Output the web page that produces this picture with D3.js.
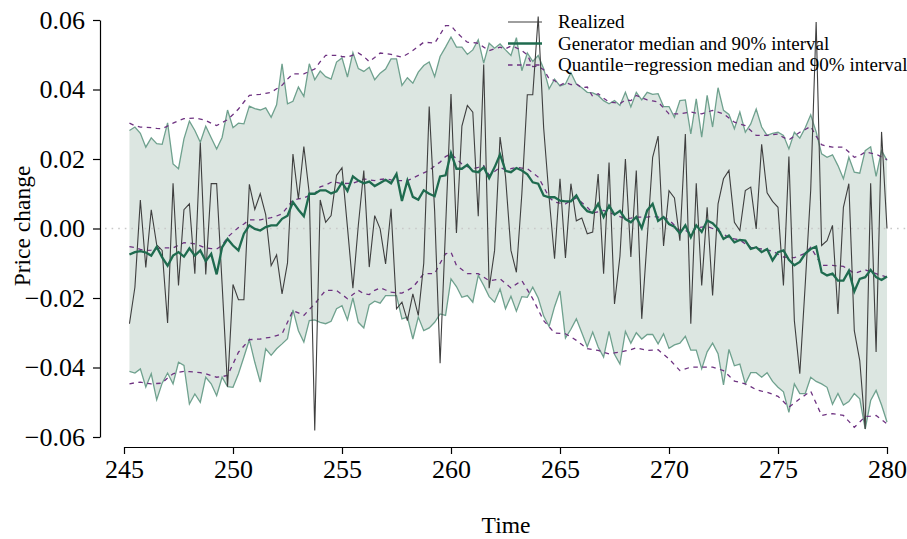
<!DOCTYPE html>
<html>
<head>
<meta charset="utf-8">
<script src="https://cdn.jsdelivr.net/npm/d3@7/dist/d3.min.js"></script>
<style>
  html, body { margin: 0; padding: 0; background: #ffffff; }
  svg { display: block; }
  text { font-family: "Liberation Serif", "Times New Roman", serif; fill: #000; }
</style>
</head>
<body>
<svg id="chart" width="907" height="539"></svg>
<script>
// Quarterly time grid: 245.25, 245.50, ... 280.00
const timeStart = 245.25;
const timeStep = 0.25;

// All series below are price changes in hundredths (0.01 units).
const realized = [
  -2.74,-1.69,0.82,-1.12,0.54,-0.47,-0.63,-2.72,1.30,-1.64,
  0.54,0.71,-1.30,2.47,-1.32,1.29,1.29,-1.60,-4.55,-1.61,
  -2.05,-2.05,1.27,0.55,1.00,0.40,-1.07,-0.76,-1.88,-0.99,
  2.14,0.85,2.36,1.00,-5.81,0.82,0.18,0.37,1.53,1.75,
  0.04,-1.72,0.10,1.67,-1.11,0.37,-0.01,-1.02,0.57,-2.31,
  -2.12,-2.65,-1.88,-2.50,-1.00,3.51,0.50,-3.88,0.00,3.87,
  -0.13,2.95,3.54,3.35,0.35,4.72,-1.72,-0.63,2.63,1.50,
  -0.63,-1.26,1.00,3.85,3.85,6.10,2.90,0.90,-0.87,1.43,
  -0.85,1.29,0.22,0.30,-0.15,-0.10,1.57,-1.30,1.90,-2.17,
  -0.80,2.00,-0.82,1.67,-2.60,-0.30,2.05,2.66,-0.50,1.09,
  0.88,-0.35,2.72,-2.74,1.30,-1.64,0.61,-1.93,0.71,1.43,
  1.67,0.18,-0.06,1.09,1.19,-0.01,2.42,1.03,0.78,0.61,
  -1.64,2.07,-2.65,-4.18,-1.60,1.10,5.94,-0.49,-0.35,0.09,
  -2.46,0.61,1.29,-2.94,-3.80,-5.77,1.30,-3.55,2.78,0.00
];

const genMedian = [
  -0.75,-0.68,-0.65,-0.69,-0.78,-0.53,-0.83,-1.07,-0.78,-0.68,
  -0.81,-0.57,-0.78,-0.63,-0.94,-0.73,-1.32,-0.54,-0.30,-0.49,
  -0.63,-0.15,0.09,-0.01,-0.06,0.04,0.09,0.09,0.28,0.37,
  0.76,0.54,0.35,1.00,1.00,1.10,1.10,1.01,1.07,1.32,
  1.08,1.50,1.38,1.30,1.35,1.22,1.31,1.40,1.30,1.57,
  0.79,1.38,0.91,0.83,1.10,1.00,0.93,1.50,1.53,2.17,
  1.72,1.72,1.83,1.65,1.62,1.76,1.45,1.76,2.13,1.66,
  1.62,1.74,1.67,1.56,1.33,1.29,0.95,0.90,0.90,0.80,
  0.78,0.78,0.95,0.67,0.50,0.45,0.71,0.33,0.66,0.40,
  0.51,0.27,0.18,0.33,0.01,0.52,0.71,0.22,0.33,0.13,
  0.05,-0.14,0.09,-0.25,0.09,-0.10,0.23,0.15,-0.01,-0.30,
  -0.20,-0.40,-0.33,-0.35,-0.59,-0.54,-0.68,-0.59,-0.92,-0.68,
  -0.63,-0.90,-1.06,-0.96,-0.72,-0.59,-0.52,-1.26,-1.35,-1.30,
  -1.50,-1.50,-1.22,-1.81,-1.45,-1.40,-1.19,-1.40,-1.48,-1.38
];

const genUpper = [
  2.82,2.92,2.74,2.34,2.61,2.44,2.42,3.04,1.86,1.72,
  2.58,3.09,2.82,2.48,2.94,2.61,2.29,2.62,3.41,2.90,
  3.03,3.01,3.52,3.45,3.41,3.47,3.20,3.56,4.74,3.59,
  3.66,4.07,3.80,4.74,4.28,4.53,4.37,4.30,4.79,4.91,
  4.36,5.06,4.60,4.52,4.64,4.28,4.47,4.59,4.88,4.88,
  4.12,4.34,4.18,4.50,4.69,4.79,4.37,4.95,5.22,5.51,
  5.22,5.22,5.01,5.14,5.43,4.76,5.33,5.19,5.31,5.14,
  4.98,5.49,4.54,5.05,4.81,4.98,4.60,4.02,4.30,4.10,
  4.16,4.48,4.16,4.05,3.92,3.90,3.83,3.68,3.59,3.68,
  3.54,3.92,3.50,3.92,3.70,3.92,3.86,3.88,3.51,3.51,
  3.20,3.68,3.70,2.72,3.73,2.63,3.83,2.92,4.05,3.40,
  3.28,2.87,3.35,2.77,3.01,3.44,2.92,2.68,2.74,2.77,
  2.68,2.29,2.77,2.60,2.90,3.27,2.78,2.15,2.05,2.12,
  1.81,1.43,2.05,1.62,1.59,2.24,2.35,1.50,2.24,1.96
];

const genLower = [
  -4.11,-4.16,-4.04,-4.56,-4.18,-4.93,-4.45,-4.16,-4.47,-3.85,
  -3.94,-5.05,-4.76,-5.00,-4.28,-4.47,-4.81,-4.28,-4.55,-4.57,
  -4.18,-3.70,-3.20,-3.85,-4.42,-3.46,-3.65,-3.46,-3.32,-3.17,
  -2.34,-2.94,-3.27,-2.65,-2.63,-2.70,-2.74,-2.67,-2.31,-2.22,
  -2.63,-2.00,-2.70,-2.86,-2.20,-2.09,-2.15,-1.93,-1.93,-1.93,
  -2.60,-2.55,-3.18,-2.55,-2.94,-2.86,-2.70,-2.46,-2.50,-1.45,
  -1.67,-1.98,-1.93,-2.12,-1.35,-1.64,-1.96,-2.12,-1.74,-2.31,
  -1.95,-2.38,-1.96,-1.98,-1.69,-2.00,-2.52,-2.82,-2.25,-1.80,
  -3.15,-2.90,-2.60,-3.00,-3.40,-2.98,-3.41,-3.70,-2.96,-3.62,
  -3.90,-2.96,-3.30,-3.00,-3.18,-3.05,-3.05,-3.32,-3.03,-3.45,
  -3.35,-3.30,-3.10,-3.50,-3.50,-4.04,-3.55,-3.30,-3.60,-4.50,
  -3.48,-3.95,-3.90,-4.47,-4.15,-4.15,-4.28,-4.15,-4.40,-4.57,
  -4.70,-5.29,-4.47,-4.75,-4.75,-4.28,-4.40,-4.47,-4.57,-5.06,
  -4.75,-5.08,-4.98,-4.75,-4.90,-5.77,-4.95,-4.66,-5.08,-5.57
];

const qrMedian = [
  -0.52,-0.55,-0.60,-0.63,-0.62,-0.58,-0.56,-0.56,-0.56,-0.48,
  -0.41,-0.42,-0.44,-0.50,-0.56,-0.58,-0.59,-0.49,-0.25,-0.11,
  0.03,0.13,0.25,0.25,0.25,0.28,0.31,0.36,0.42,0.62,
  0.82,0.85,0.88,0.95,1.00,1.20,1.25,1.33,1.33,1.29,
  1.30,1.30,1.36,1.43,1.40,1.38,1.41,1.43,1.40,1.38,
  1.38,1.38,1.45,1.53,1.60,1.67,1.80,1.91,2.07,2.15,
  2.00,1.86,1.78,1.72,1.76,1.81,1.53,1.64,1.76,1.69,
  1.72,1.76,1.74,1.72,1.60,1.48,1.20,0.90,0.76,0.73,
  0.71,0.80,0.88,0.75,0.61,0.45,0.48,0.52,0.46,0.40,
  0.34,0.28,0.30,0.33,0.33,0.33,0.35,0.33,0.32,0.25,
  0.09,-0.06,-0.05,-0.15,0.02,0.04,0.06,0.00,-0.06,-0.16,
  -0.27,-0.30,-0.33,-0.44,-0.54,-0.57,-0.59,-0.62,-0.65,-0.74,
  -0.82,-0.83,-0.84,-0.78,-0.71,-0.54,-0.80,-1.06,-1.06,-1.06,
  -1.08,-1.09,-1.19,-1.29,-1.24,-1.19,-1.25,-1.30,-1.35,-1.40
];

const qrUpper = [
  3.03,2.96,2.92,2.91,2.90,2.88,2.87,2.95,3.03,3.10,
  3.16,3.17,3.18,3.15,3.11,3.03,2.96,3.05,3.13,3.28,
  3.44,3.64,3.83,3.85,3.86,3.89,3.92,4.02,4.12,4.30,
  4.45,4.45,4.45,4.52,4.59,4.80,4.98,4.98,4.98,4.95,
  4.93,4.99,5.05,4.95,4.80,4.92,5.05,5.03,5.01,4.97,
  4.93,5.02,5.12,5.24,5.36,5.35,5.33,5.58,5.84,5.84,
  5.65,5.50,5.36,5.35,5.33,5.22,5.12,5.17,5.22,5.17,
  5.25,5.20,5.12,5.00,4.66,4.67,4.57,4.31,4.26,4.12,
  4.20,4.14,4.16,4.05,4.07,3.80,3.88,3.75,3.64,3.62,
  3.59,3.70,3.68,3.83,3.76,3.70,3.67,3.64,3.47,3.30,
  3.30,3.30,3.33,3.35,3.32,3.30,3.35,3.40,3.35,3.30,
  3.18,3.06,3.01,2.96,2.82,2.68,2.68,2.68,2.70,2.72,
  2.62,2.55,2.66,2.77,2.85,2.94,2.66,2.41,2.37,2.34,
  2.34,2.34,2.20,2.05,2.10,2.20,2.17,2.14,2.06,1.98
];

const qrLower = [
  -4.47,-4.44,-4.42,-4.45,-4.47,-4.46,-4.45,-4.30,-4.18,-4.14,
  -4.11,-4.12,-4.13,-4.15,-4.18,-4.23,-4.28,-4.26,-4.23,-3.90,
  -3.56,-3.38,-3.20,-3.19,-3.18,-3.15,-3.13,-3.08,-3.03,-2.70,
  -2.36,-2.43,-2.50,-2.33,-2.17,-1.97,-1.78,-1.78,-1.78,-1.90,
  -2.02,-1.90,-1.78,-1.88,-1.90,-1.78,-1.71,-1.77,-1.83,-1.85,
  -1.86,-1.78,-1.69,-1.50,-1.30,-1.30,-1.30,-1.00,-0.73,-0.68,
  -1.06,-1.18,-1.30,-1.30,-1.30,-1.40,-1.50,-1.48,-1.45,-1.58,
  -1.71,-1.60,-1.50,-1.76,-2.02,-2.34,-2.65,-2.83,-3.01,-3.02,
  -3.03,-3.12,-3.22,-3.34,-3.46,-3.48,-3.51,-3.56,-3.61,-3.58,
  -3.56,-3.52,-3.49,-3.43,-3.47,-3.51,-3.50,-3.49,-3.62,-3.75,
  -3.92,-4.09,-4.04,-3.99,-3.99,-3.99,-3.99,-3.99,-4.04,-4.09,
  -4.24,-4.39,-4.43,-4.47,-4.55,-4.64,-4.68,-4.71,-4.77,-4.83,
  -4.98,-5.14,-5.02,-4.90,-4.79,-4.68,-5.03,-5.38,-5.35,-5.33,
  -5.35,-5.38,-5.55,-5.72,-5.57,-5.41,-5.40,-5.38,-5.50,-5.62
];

const xTicks = [245, 250, 255, 260, 265, 270, 275, 280];
const yTicks = [-0.06, -0.04, -0.02, 0.00, 0.02, 0.04, 0.06];
const legendLabels = [
  "Realized",
  "Generator median and 90% interval",
  "Quantile\u2212regression median and 90% interval"
];

const colors = {
  realized: "#3f3f3f",
  genLine: "#1f6b4f",
  genBand: "#dce6e1",
  genEdge: "#6fa18e",
  qr: "#6e3281",
  zero: "#c9c9c9"
};

const rows = realized.map((v, i) => ({
  t: timeStart + i * timeStep,
  realized: v / 100,
  genMedian: genMedian[i] / 100,
  genUpper: genUpper[i] / 100,
  genLower: genLower[i] / 100,
  qrMedian: qrMedian[i] / 100,
  qrUpper: qrUpper[i] / 100,
  qrLower: qrLower[i] / 100
}));

const svg = d3.select("#chart");
const x = d3.scaleLinear().domain([245, 280]).range([124, 887]);
const y = d3.scaleLinear().domain([-0.06, 0.06]).range([437, 20]);

// Generator 90% band
svg.append("path")
  .datum(rows)
  .attr("fill", colors.genBand)
  .attr("d", d3.area().x(d => x(d.t)).y0(d => y(d.genLower)).y1(d => y(d.genUpper)));

// Zero reference line
svg.append("line")
  .attr("x1", 105).attr("x2", 907)
  .attr("y1", y(0)).attr("y2", y(0))
  .attr("stroke", colors.zero)
  .attr("stroke-width", 1.6)
  .attr("stroke-dasharray", "1.6,5");

const line = key => d3.line().x(d => x(d.t)).y(d => y(d[key]));

// Generator band edges
["genUpper", "genLower"].forEach(k => {
  svg.append("path").datum(rows)
    .attr("fill", "none")
    .attr("stroke", colors.genEdge)
    .attr("stroke-width", 1.3)
    .attr("d", line(k));
});

// Quantile-regression median and bounds (dashed)
["qrUpper", "qrLower", "qrMedian"].forEach(k => {
  svg.append("path").datum(rows)
    .attr("fill", "none")
    .attr("stroke", colors.qr)
    .attr("stroke-width", 1.3)
    .attr("stroke-dasharray", "4.5,4.5")
    .attr("d", line(k));
});

// Realized path
svg.append("path").datum(rows)
  .attr("fill", "none")
  .attr("stroke", colors.realized)
  .attr("stroke-width", 1.1)
  .attr("stroke-linejoin", "miter")
  .attr("d", line("realized"));

// Generator median
svg.append("path").datum(rows)
  .attr("fill", "none")
  .attr("stroke", colors.genLine)
  .attr("stroke-width", 2.3)
  .attr("d", line("genMedian"));

// Axes
const yAxis = svg.append("g")
  .attr("transform", "translate(100,0)")
  .call(d3.axisLeft(y).tickValues(yTicks).tickFormat(d3.format(".2f")).tickSize(7).tickSizeOuter(0).tickPadding(8));
const xAxis = svg.append("g")
  .attr("transform", "translate(0,447)")
  .call(d3.axisBottom(x).tickValues(xTicks).tickFormat(d3.format("d")).tickSize(7).tickSizeOuter(0).tickPadding(6));

[yAxis, xAxis].forEach(g => {
  g.selectAll("path, line").attr("stroke", "#000").attr("stroke-width", 1.2);
  g.selectAll("text")
    .attr("fill", "#000")
    .style("font-family", "'Liberation Serif', 'Times New Roman', serif")
    .style("font-size", "26px");
});

// Axis titles
svg.append("text")
  .attr("x", 506).attr("y", 533)
  .attr("text-anchor", "middle")
  .style("font-size", "23.5px")
  .text("Time");
svg.append("text")
  .attr("transform", "translate(30,226) rotate(-90)")
  .attr("text-anchor", "middle")
  .style("font-size", "23.5px")
  .text("Price change");

// Legend
const legendY = [22, 43.5, 65];
const legend = svg.append("g");
legendLabels.forEach((label, i) => {
  const ly = legendY[i];
  const seg = legend.append("line")
    .attr("x1", 508).attr("x2", 542)
    .attr("y1", ly).attr("y2", ly);
  if (i === 0) seg.attr("stroke", colors.realized).attr("stroke-width", 1.1);
  if (i === 1) seg.attr("stroke", colors.genLine).attr("stroke-width", 2.3);
  if (i === 2) seg.attr("stroke", colors.qr).attr("stroke-width", 1.3).attr("stroke-dasharray", "4.5,4.5");
  legend.append("text")
    .attr("x", 558).attr("y", ly + 6)
    .style("font-size", "19px")
    .text(label);
});
</script>
</body>
</html>
